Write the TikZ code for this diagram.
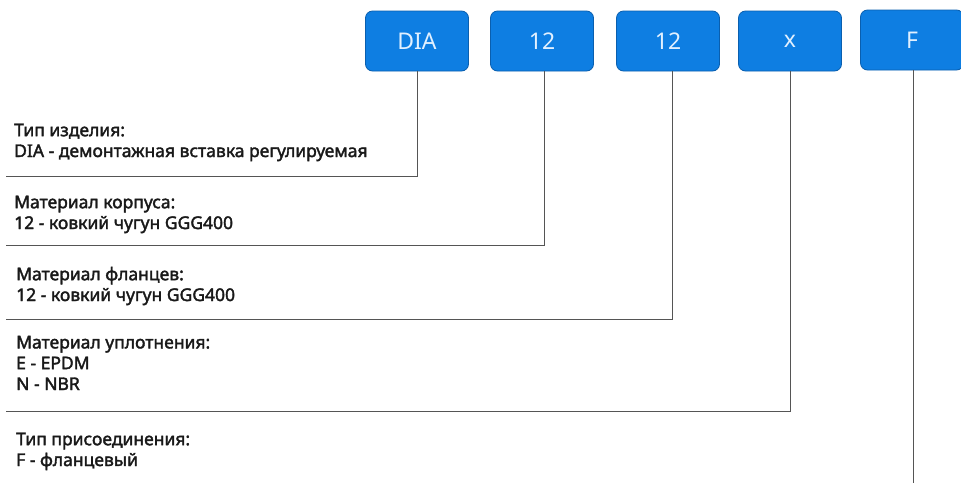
\documentclass[tikz,border=0pt]{standalone}
\usepackage{fontspec}
\setmainfont{Noto Sans}
\newfontfamily\lblfont[FakeBold=2]{Noto Sans}
\definecolor{boxblue}{RGB}{14,126,226}
\definecolor{boxedge}{RGB}{10,95,175}
\definecolor{boxtext}{RGB}{225,240,255}
\definecolor{linegray}{RGB}{85,85,85}
\definecolor{txt}{RGB}{25,25,25}
\begin{document}
\begin{tikzpicture}[x=1pt,y=-1pt,
  codebox/.style={draw=boxedge,fill=boxblue,rounded corners=7pt,line width=0.8pt,
    minimum width=103pt,minimum height=60pt,inner sep=0pt,
    text=boxtext,font=\fontsize{23}{23}\selectfont},
  lbl/.style={anchor=base west,inner sep=0pt,text=txt,
    font=\lblfont\fontsize{17.5}{20.8}\selectfont,align=left},
  conn/.style={draw=linegray,line width=1pt}]
\useasboundingbox (0,0) rectangle (961,483);
\fill[white] (0,0) rectangle (961,483);
% code boxes
\node[codebox] (dia) at (417,41) {DIA};
\node[codebox] (b12a) at (542,41) {12};
\node[codebox] (b12b) at (668,41) {12};
\node[codebox] (bx) at (790,41) {x};
\node[codebox] (bf) at (912,40) {F};
% end points
\coordinate (e1) at (6,176);
\coordinate (e2) at (6,245);
\coordinate (e3) at (6,319);
\coordinate (e4) at (6,411);
\coordinate (e5) at (913,483);
% connectors
\draw[conn] (dia.south) |- (e1);
\draw[conn] ([xshift=2pt]b12a.south) |- (e2);
\draw[conn] ([xshift=4pt]b12b.south) |- (e3);
\draw[conn] (bx.south) |- (e4);
\draw[conn] ([xshift=1pt]bf.south) -- (e5);
% labels (anchored at the baseline of the last line)
\node[lbl] (t1) at (14,157) {Тип изделия:\\DIA - демонтажная вставка регулируемая};
\node[lbl] (t2) at (14,229) {Материал корпуса:\\12 - ковкий чугун GGG400};
\node[lbl] (t3) at (16,301) {Материал фланцев:\\12 - ковкий чугун GGG400};
\node[lbl] (t4) at (16,390) {Материал уплотнения:\\E - EPDM\\N - NBR};
\node[lbl] (t5) at (16,466) {Тип присоединения:\\F - фланцевый};
\end{tikzpicture}
\end{document}
